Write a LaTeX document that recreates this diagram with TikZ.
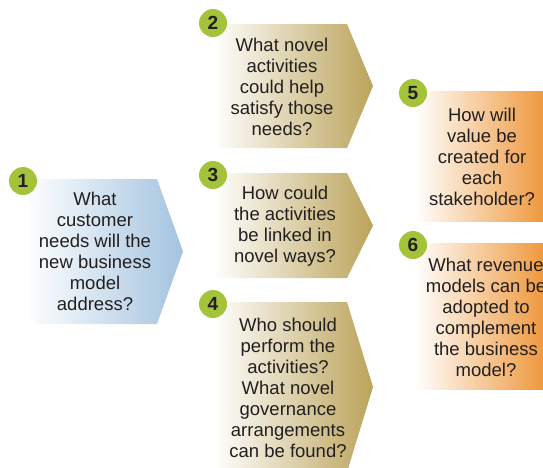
\documentclass[tikz,border=0pt]{standalone}
\usepackage{fontspec}
\setmainfont{Liberation Sans}
\definecolor{bluearr}{HTML}{A3C3E0}
\definecolor{goldarr}{HTML}{BBA35A}
\definecolor{orangearr}{HTML}{EE9537}
\definecolor{numgreen}{HTML}{A4C23A}
\definecolor{qgray}{HTML}{231F20}
\begin{document}
\begin{tikzpicture}[x=1pt, y=-1pt,
    qtext/.style={align=center, text=qgray, font=\fontsize{18.5}{21}\selectfont},
    num/.style={circle, fill=numgreen, minimum size=28pt, inner sep=0pt, text=qgray, font=\fontsize{19}{19}\selectfont\bfseries}]
    \clip (0,0) rectangle (543,467);
    % arrows and boxes
    \shade[left color=white, right color=bluearr] (25,179) -- (157,179) -- (183,251.5) -- (157,324) -- (25,324) -- cycle;
    \shade[left color=white, right color=goldarr] (213,24) -- (347,24) -- (373,86) -- (347,148) -- (213,148) -- cycle;
    \shade[left color=white, right color=goldarr] (213,173) -- (347,173) -- (373,225.5) -- (347,278) -- (213,278) -- cycle;
    \shade[left color=white, right color=goldarr] (213,302) -- (347,302) -- (373,387) -- (347,472) -- (213,472) -- cycle;
    \shade[left color=white, right color=orangearr] (415,91) rectangle (548,221);
    \shade[left color=white, right color=orangearr] (415,243) rectangle (548,389);
    % questions
    \node[qtext] (needs) at (95,251.5) {What\\customer\\needs will the\\new business\\model\\address?};
    \node[qtext] (activities) at (282,87) {What novel\\activities\\could help\\satisfy those\\needs?};
    \node[qtext] (linkage) at (285,226) {How could\\the activities\\be linked in\\novel ways?};
    \node[qtext] (governance) at (288,388) {Who should\\perform the\\activities?\\What novel\\governance\\arrangements\\can be found?};
    \node[qtext] (value) at (482,157) {How will\\value be\\created for\\each\\stakeholder?};
    \node[qtext] (revenue) at (486,317) {What revenue\\models can be\\adopted to\\complement\\the business\\model?};
    % step numbers
    \node[num] (n1) at (23,181) {1};
    \node[num] (n2) at (213,23) {2};
    \node[num] (n3) at (213,175) {3};
    \node[num] (n4) at (213,304) {4};
    \node[num] (n5) at (413,93) {5};
    \node[num] (n6) at (413,245) {6};
\end{tikzpicture}
\end{document}
